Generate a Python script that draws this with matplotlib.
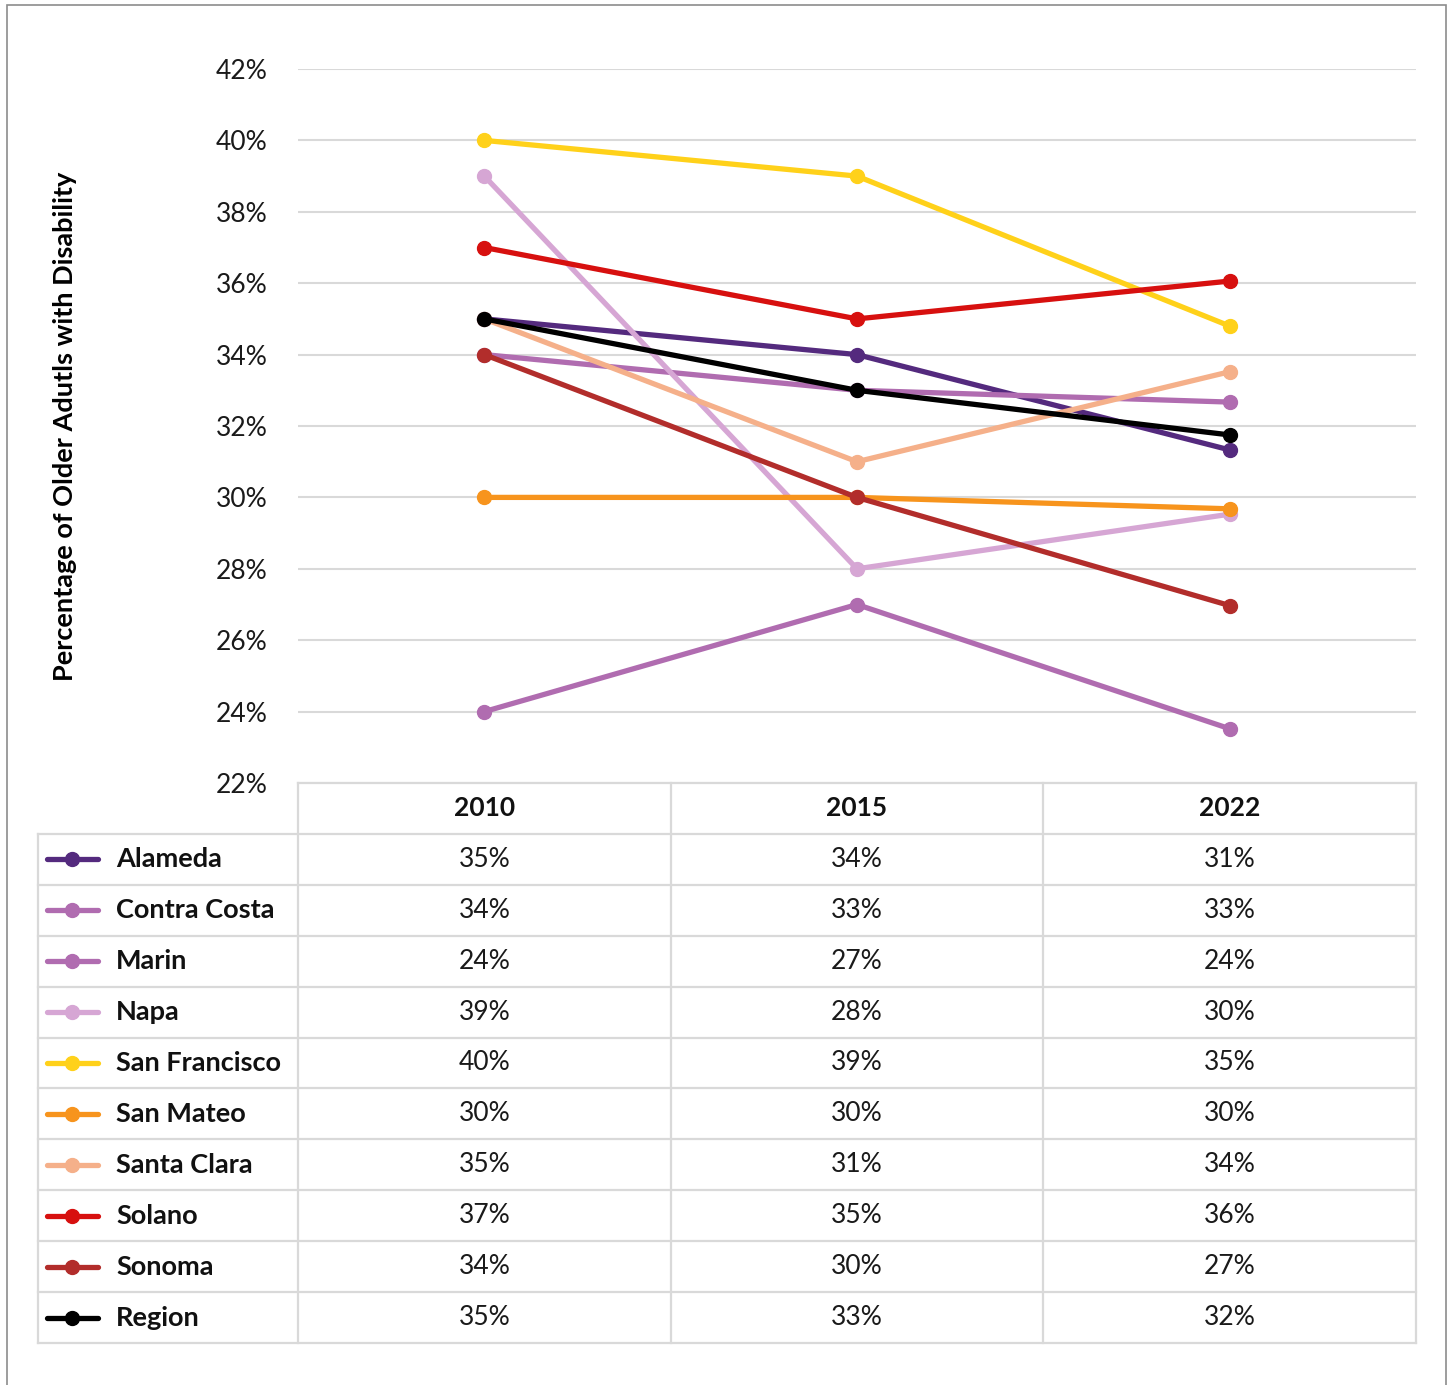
import matplotlib
matplotlib.use("Agg")
import matplotlib.pyplot as plt
from matplotlib.patches import Rectangle

plt.rcParams['font.family'] = ['Lato', 'DejaVu Sans']

# data
years = ["2010", "2015", "2022"]
counties = ["Alameda", "Contra Costa", "Marin", "Napa", "San Francisco",
            "San Mateo", "Santa Clara", "Solano", "Sonoma", "Region"]
alameda = [35, 34, 31.33]
contra_costa = [34, 33, 32.67]
marin = [24, 27, 23.52]
napa = [39, 28, 29.53]
san_francisco = [40, 39, 34.8]
san_mateo = [30, 30, 29.68]
santa_clara = [35, 31, 33.52]
solano = [37, 35, 36.06]
sonoma = [34, 30, 26.97]
region = [35, 33, 31.75]
colors = ["#542a7e", "#b06cb0", "#b06cb0", "#d6a6d4", "#ffd11a",
          "#f7941d", "#f5b08a", "#d7100f", "#b22d2b", "#000000"]

series = [alameda, contra_costa, marin, napa, san_francisco,
          san_mateo, santa_clara, solano, sonoma, region]

W, H = 1452, 1385
fig = plt.figure(figsize=(W / 100, H / 100), dpi=100)


def box(l, t, r, b):
    return [l / W, 1 - b / H, (r - l) / W, (b - t) / H]


# outer frame
fig.patches.append(Rectangle((7 / W, -0.05), (1446 - 7) / W, 1.05 - 5 / H,
                             transform=fig.transFigure, fill=False,
                             edgecolor="#8c8c8c", lw=1.2))

grid_c = "#d9d9d9"

ax = fig.add_axes(box(298, 69, 1416, 783))
for i, vals in enumerate(series):
    ax.plot(range(len(years)), vals, color=colors[i], lw=3.8,
            marker="o", markersize=10, solid_capstyle="round", zorder=3 + i)
ax.set_xlim(-0.5, 2.5)
ax.set_ylim(22, 42)
ticks = list(range(22, 43, 2))
ax.set_yticks(ticks)
ax.set_yticklabels([f"{t}%" for t in ticks], fontsize=19, color="#1a1a1a")
ax.set_xticks([])
ax.tick_params(axis="y", length=0, pad=22)
ax.yaxis.grid(True, color=grid_c, lw=1.5)
ax.set_axisbelow(True)
for s in ax.spines.values():
    s.set_visible(False)
ax.set_ylabel("Percentage of Older Adutls with Disability", fontsize=19.5,
              fontweight="bold", labelpad=100)

# data table under the chart
tab = fig.add_axes(box(298, 783, 1416, 1343))
nrow = len(counties) + 1
tab.set_xlim(-0.5, 2.5)
tab.set_ylim(nrow, 0)
tab.axis("off")
col_px = (1416 - 298) / 3.0


def px2x(px):
    return -0.5 + (px - 298) / col_px


left = px2x(38)
lk = dict(color=grid_c, lw=1.6, clip_on=False, zorder=1)
tab.plot([-0.5, 2.5], [0, 0], **lk)
for r in range(1, nrow + 1):
    tab.plot([left, 2.5], [r, r], **lk)
tab.plot([left, left], [1, nrow], **lk)
for c in range(4):
    tab.plot([c - 0.5, c - 0.5], [0, nrow], **lk)

for j, y in enumerate(years):
    tab.text(j, 0.5, y, ha="center", va="center", fontsize=19,
             fontweight="bold", color="#111111")

for i, (name, vals) in enumerate(zip(counties, series)):
    yc = i + 1.5
    tab.plot([px2x(47), px2x(98)], [yc, yc], color=colors[i], lw=3.8,
             solid_capstyle="round", clip_on=False)
    tab.plot([px2x(72)], [yc], "o", color=colors[i], markersize=10,
             clip_on=False)
    tab.text(px2x(116), yc, name, ha="left", va="center", fontsize=19.5,
             fontweight="bold", color="#111111")
    for j, v in enumerate(vals):
        tab.text(j, yc, f"{int(v + 0.5)}%", ha="center", va="center",
                 fontsize=19, color="#1a1a1a")

fig.savefig("out.png", dpi=100)
